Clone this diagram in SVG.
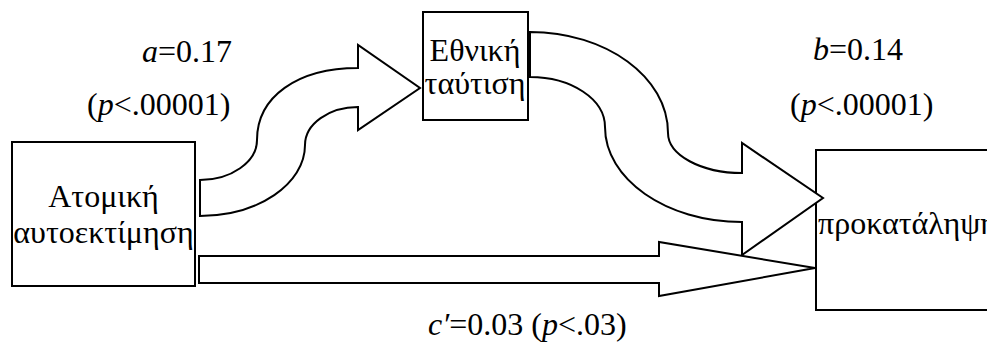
<svg xmlns="http://www.w3.org/2000/svg" width="987" height="347" viewBox="0 0 987 347">
<rect width="987" height="347" fill="#fff"/>
<g id="node-atomiki">
<rect x="12" y="142" width="183" height="144" fill="#fff" stroke="#000" stroke-width="2"/>
<text x="103.5" y="207" text-anchor="middle" font-family="Times New Roman" font-size="32">Ατομική</text>
<text x="103.5" y="243" text-anchor="middle" font-family="Times New Roman" font-size="32">αυτοεκτίμηση</text>
</g>
<g id="node-ethniki">
<rect x="423" y="12" width="105" height="108" fill="#fff" stroke="#000" stroke-width="2"/>
<text x="475" y="61" text-anchor="middle" font-family="Times New Roman" font-size="32">Εθνική</text>
<text x="475" y="94" text-anchor="middle" font-family="Times New Roman" font-size="32">ταύτιση</text>
</g>
<g id="node-prokatalipsi">
<rect x="816" y="150" width="200" height="160" fill="#fff" stroke="#000" stroke-width="2"/>
<text x="818" y="234" font-family="Times New Roman" font-size="32">προκατάληψη</text>
</g>
<g id="connectors" fill="#fff" stroke="#000" stroke-width="2">
<path id="arrow-a" d="M200,180 C231,180 257,162 257,140 C257,97 297,68 358,68 L358,45 L420,88 L358,130 L358,107 C329,107 305,124 305,145 C305,184 258,216 200,216 Z"/>
<path id="arrow-b" d="M530,32 C606,32 668,77 668,133 C668,155 701,173 742,173 L742,143 L823,198 L742,255 L742,222 C666,222 605,179 605,127 C605,99 571,77 530,77 Z"/>
<path id="arrow-c" d="M199,256 L659,256 L659,242 L815,268 L659,296 L659,283 L199,283 Z"/>
</g>
<g id="labels">
<text x="142" y="62" font-family="Times New Roman" font-size="32"><tspan font-style="italic">a</tspan>=0.17</text>
<text x="87" y="115" font-family="Times New Roman" font-size="32">(<tspan font-style="italic">p</tspan>&lt;.00001)</text>
<text x="813" y="60" font-family="Times New Roman" font-size="32"><tspan font-style="italic">b</tspan>=0.14</text>
<text x="790" y="115" font-family="Times New Roman" font-size="32">(<tspan font-style="italic">p</tspan>&lt;.00001)</text>
<text x="428" y="335" font-family="Times New Roman" font-size="32"><tspan font-style="italic">c′</tspan>=0.03 (<tspan font-style="italic">p</tspan>&lt;.03)</text>
</g>
</svg>
